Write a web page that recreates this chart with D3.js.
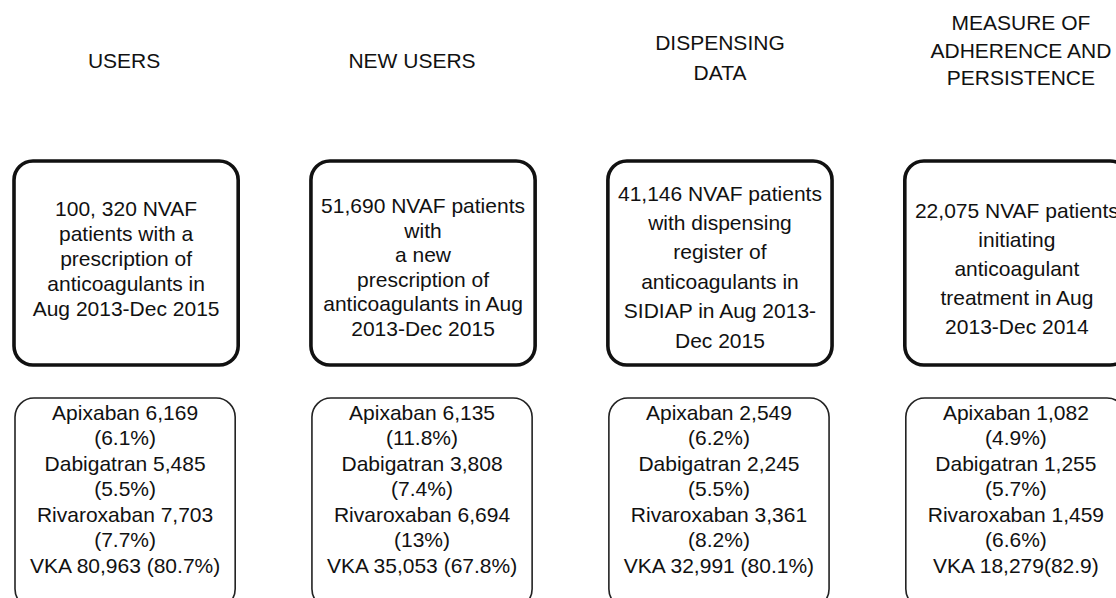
<!DOCTYPE html>
<html>
<head>
<meta charset="utf-8">
<script src="https://cdn.jsdelivr.net/npm/d3@7"></script>
<style>
  html, body { margin: 0; padding: 0; background: #fff; }
  svg { display: block; }
  text { font-family: "Liberation Sans", Arial, Helvetica, sans-serif; fill: #111; }
</style>
</head>
<body>
<div id="chart"></div>
<script>
// ── Data ──────────────────────────────────────
const columns = ["users", "newUsers", "dispensing", "adherence"];

const headers = [
  ["USERS"],
  ["NEW USERS"],
  ["DISPENSING", "DATA"],
  ["MEASURE OF", "ADHERENCE AND", "PERSISTENCE"]
];

const cohortText = [
  ["100, 320 NVAF", "patients with a", "prescription of", "anticoagulants in", "Aug 2013-Dec 2015"],
  ["51,690 NVAF patients", "with", "a new", "prescription of", "anticoagulants in Aug", "2013-Dec 2015"],
  ["41,146 NVAF patients", "with dispensing", "register of", "anticoagulants in", "SIDIAP in Aug 2013-", "Dec 2015"],
  ["22,075 NVAF patients", "initiating", "anticoagulant", "treatment in Aug", "2013-Dec 2014"]
];

const drugs = ["Apixaban", "Dabigatran", "Rivaroxaban"];
const drugCounts = [
  ["6,169", "5,485", "7,703"],
  ["6,135", "3,808", "6,694"],
  ["2,549", "2,245", "3,361"],
  ["1,082", "1,255", "1,459"]
];
const drugPct = [
  ["(6.1%)", "(5.5%)", "(7.7%)"],
  ["(11.8%)", "(7.4%)", "(13%)"],
  ["(6.2%)", "(5.5%)", "(8.2%)"],
  ["(4.9%)", "(5.7%)", "(6.6%)"]
];
const vkaLines = [
  "VKA 80,963 (80.7%)",
  "VKA 35,053 (67.8%)",
  "VKA 32,991 (80.1%)",
  "VKA 18,279(82.9)"
];

// ── Layout ────────────────────────────────────
const W = 1116, H = 598;
const FS = 21;
const cohortLineH = [25, 24.5, 29.4, 29];
const cohortMid = [258.5, 267, 266.5, 268.5];
const headerMid = [60, 60, 57, 50];
const headerShift = [-2, -11, 0, 4];

const x = d3.scaleBand()
  .domain(columns)
  .range([14, 1129])
  .paddingInner(0.245)
  .paddingOuter(0);

const svg = d3.select("#chart").append("svg")
  .attr("width", W)
  .attr("height", H);

const col = svg.selectAll("g.col")
  .data(columns)
  .join("g")
  .attr("class", "col");

// multi-line centred text helper
function lines(sel, arr, cx, mid, lh) {
  const y0 = mid - (arr.length - 1) * lh / 2 + FS * 0.36;
  sel.selectAll("tspan")
    .data(arr)
    .join("tspan")
    .attr("x", cx)
    .attr("y", (t, j) => y0 + j * lh)
    .text(t => t);
}

// headers
col.append("text")
  .attr("text-anchor", "middle")
  .attr("font-size", FS)
  .each(function (d, i) {
    const lh = headers[i].length === 2 ? 30 : 27.5;
    lines(d3.select(this), headers[i], x(d) + x.bandwidth() / 2 + headerShift[i], headerMid[i], lh);
  });

// top (cohort) boxes
const topY = 161, topH = 204;
col.append("rect")
  .attr("x", d => x(d))
  .attr("y", topY)
  .attr("width", x.bandwidth())
  .attr("height", topH)
  .attr("rx", 19)
  .attr("fill", "#fff")
  .attr("stroke", "#111")
  .attr("stroke-width", 3.6);

col.append("text")
  .attr("text-anchor", "middle")
  .attr("font-size", FS)
  .each(function (d, i) {
    lines(d3.select(this), cohortText[i], x(d) + x.bandwidth() / 2, cohortMid[i], cohortLineH[i]);
  });

// bottom (drug) boxes, running off the bottom edge
const botY = 398;
col.append("rect")
  .attr("x", d => x(d) + 1)
  .attr("y", botY)
  .attr("width", x.bandwidth() - 4)
  .attr("height", 210)
  .attr("rx", 19)
  .attr("fill", "#fff")
  .attr("stroke", "#222")
  .attr("stroke-width", 1.6);

col.append("text")
  .attr("text-anchor", "middle")
  .attr("font-size", FS)
  .each(function (d, i) {
    const arr = [];
    drugs.forEach((g, k) => {
      arr.push(g + " " + drugCounts[i][k]);
      arr.push(drugPct[i][k]);
    });
    arr.push(vkaLines[i]);
    lines(d3.select(this), arr, x(d) + x.bandwidth() / 2 - 1, 412 + 3 * 25.5, 25.5);
  });
</script>
</body>
</html>
